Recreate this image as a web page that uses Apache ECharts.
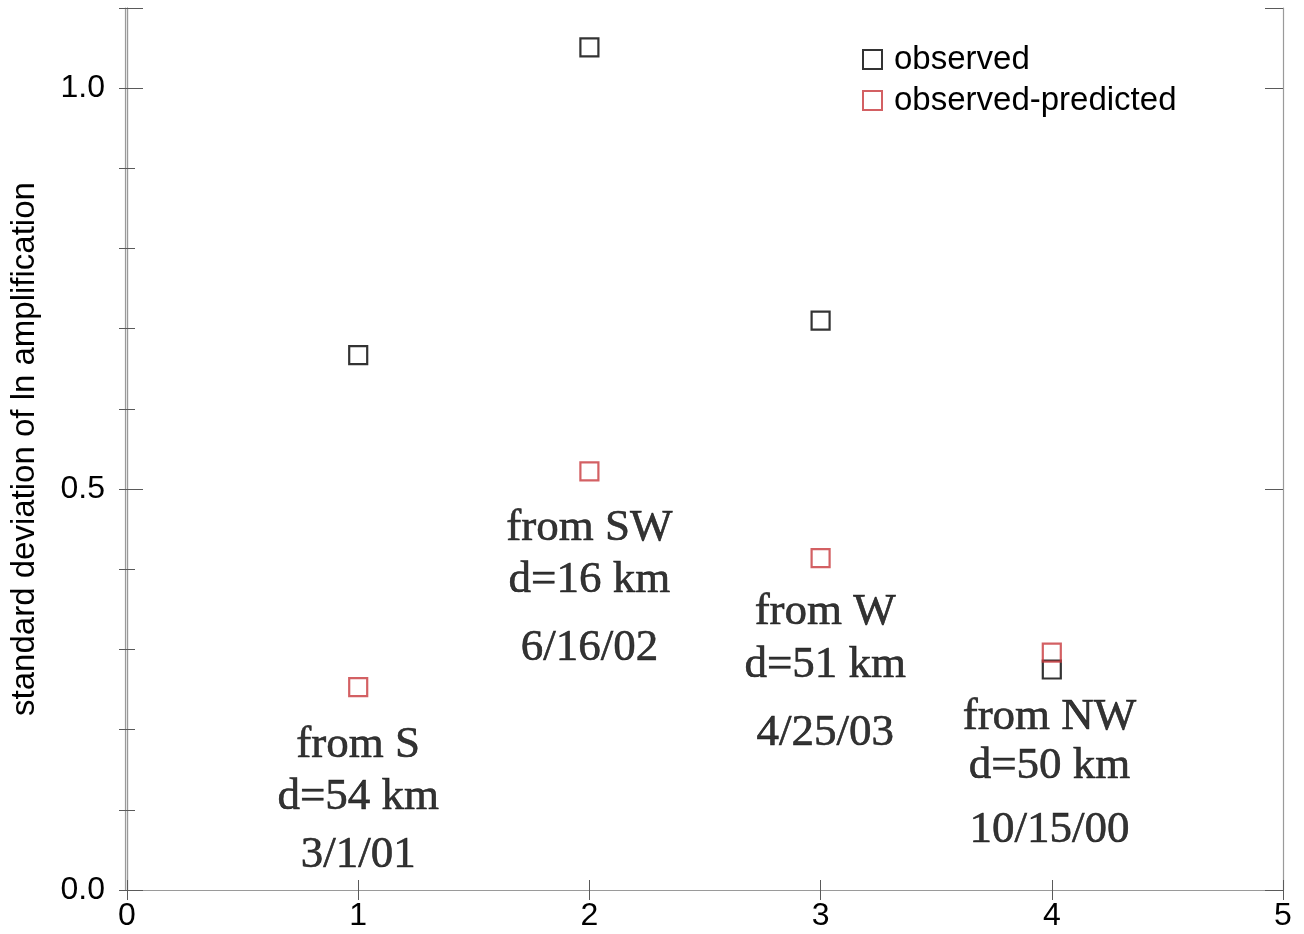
<!DOCTYPE html>
<html>
<head>
<meta charset="utf-8">
<script src="https://cdn.jsdelivr.net/npm/echarts@6/dist/echarts.min.js"></script>
<style>
  html, body { margin: 0; padding: 0; background: #ffffff; }
  #chart { width: 1304px; height: 934px; }
</style>
</head>
<body>
<div id="chart"></div>
<script>
// Events (x position) and standard deviation of ln amplification
const events = [1, 2, 3, 4];
const observed = [0.667, 1.051, 0.710, 0.275];
const observedMinusPredicted = [0.253, 0.522, 0.414, 0.296];

// Axis tick labels
const xTickLabels = ['0', '1', '2', '3', '4', '5'];
const yLabelValues = [0, 0.5, 1.0];
const yTickLabels = ['0.0', '0.5', '1.0'];

// Event notes: [x, y, text]
const noteLines = [
  [1, 0.180, 'from S'], [1, 0.116, 'd=54 km'], [1, 0.044, '3/1/01'],
  [2, 0.451, 'from SW'], [2, 0.387, 'd=16 km'], [2, 0.302, '6/16/02'],
  [3.02, 0.346, 'from W'], [3.02, 0.281, 'd=51 km'], [3.02, 0.196, '4/25/03'],
  [3.99, 0.216, 'from NW'], [3.99, 0.154, 'd=50 km'], [3.99, 0.075, '10/15/00']
];

const RED = '#c8383c';
const FRAME = '#9a9a9a';
const TICK = '#5a5a5a';
const SANS = '"Liberation Sans", Arial, Helvetica, sans-serif';
const SERIF = '"Liberation Serif", "Times New Roman", serif';

const gridBox = { left: 125, right: 21, top: 8, bottom: 44 };

function xAxisCfg(gridIndex, position, withLabels) {
  return {
    type: 'value', gridIndex: gridIndex, position: position,
    min: 0, max: 5, interval: 1,
    axisLine: { show: true, lineStyle: { color: FRAME, width: 1.2 } },
    axisTick: { show: true, inside: true, length: 10, lineStyle: { color: TICK, width: 1 } },
    splitLine: { show: false },
    axisLabel: withLabels ? {
      show: true, margin: 10, color: '#000', fontFamily: SANS, fontSize: 32,
      formatter: v => xTickLabels[Math.round(v)]
    } : { show: false }
  };
}

function yAxisCfg(gridIndex, position, interval, tickLen, withLabels) {
  const cfg = {
    type: 'value', gridIndex: gridIndex, position: position,
    min: 0, max: 1.1, interval: interval,
    axisLine: { show: true, lineStyle: { color: FRAME, width: 1.2 } },
    axisTick: { show: true, inside: true, length: tickLen, lineStyle: { color: TICK, width: 1 } },
    splitLine: { show: false },
    axisLabel: { show: false }
  };
  if (withLabels) {
    cfg.axisLabel = {
      show: true, margin: 22, color: '#000', fontFamily: SANS, fontSize: 32,
      formatter: v => {
        const i = yLabelValues.findIndex(t => Math.abs(t - v) < 1e-6);
        return i >= 0 ? yTickLabels[i] : '';
      }
    };
    cfg.name = 'standard deviation of ln amplification';
    cfg.nameLocation = 'middle';
    cfg.nameGap = 86;
    cfg.nameTextStyle = { color: '#000', fontFamily: SANS, fontSize: 33 };
  }
  return cfg;
}

const chart = echarts.init(document.getElementById('chart'), null, { renderer: 'canvas' });

chart.setOption({
  backgroundColor: '#ffffff',
  animation: false,
  grid: [
    Object.assign({}, gridBox),
    Object.assign({}, gridBox)
  ],
  xAxis: [
    xAxisCfg(0, 'bottom', true),
    xAxisCfg(0, 'top', false),
    Object.assign(xAxisCfg(1, 'bottom', false), { show: false })
  ],
  yAxis: [
    // minor ticks every 0.1
    yAxisCfg(0, 'left', 0.1, 8, true),
    yAxisCfg(0, 'right', 0.1, 8, false),
    // major ticks every 0.5
    yAxisCfg(1, 'left', 0.5, 18, false),
    yAxisCfg(1, 'right', 0.5, 18, false)
  ],
  legend: {
    orient: 'vertical',
    left: 857, top: 38,
    itemWidth: 19, itemHeight: 19, itemGap: 8,
    textStyle: { color: '#000', fontFamily: SANS, fontSize: 33, lineHeight: 33, padding: [0, 0, 0, 7] },
    data: [
      { name: 'observed', icon: 'rect',
        itemStyle: { color: 'rgba(0,0,0,0)', borderColor: '#000', borderWidth: 2 } },
      { name: 'observed-predicted', icon: 'rect',
        itemStyle: { color: 'rgba(0,0,0,0)', borderColor: RED, borderWidth: 2 } }
    ]
  },
  series: [
    {
      name: 'observed', type: 'scatter', xAxisIndex: 0, yAxisIndex: 0,
      symbol: 'rect', symbolSize: 18,
      itemStyle: { color: 'rgba(0,0,0,0)', borderColor: '#000', borderWidth: 2.2 },
      data: events.map((x, i) => [x, observed[i]]),
      z: 3
    },
    {
      name: 'observed-predicted', type: 'scatter', xAxisIndex: 0, yAxisIndex: 0,
      symbol: 'rect', symbolSize: 18,
      itemStyle: { color: 'rgba(0,0,0,0)', borderColor: RED, borderWidth: 2.2 },
      data: events.map((x, i) => [x, observedMinusPredicted[i]]),
      z: 4
    },
    {
      name: 'notes', type: 'scatter', xAxisIndex: 0, yAxisIndex: 0,
      symbolSize: 0, silent: true, legendHoverLink: false,
      data: noteLines.map(n => ({ value: [n[0], n[1]], name: n[2] })),
      label: {
        show: true, position: 'inside', formatter: p => p.name,
        color: '#000', fontFamily: SERIF, fontSize: 45,
        textBorderColor: '#000', textBorderWidth: 0.6
      },
      z: 2
    }
  ]
});
</script>
</body>
</html>
